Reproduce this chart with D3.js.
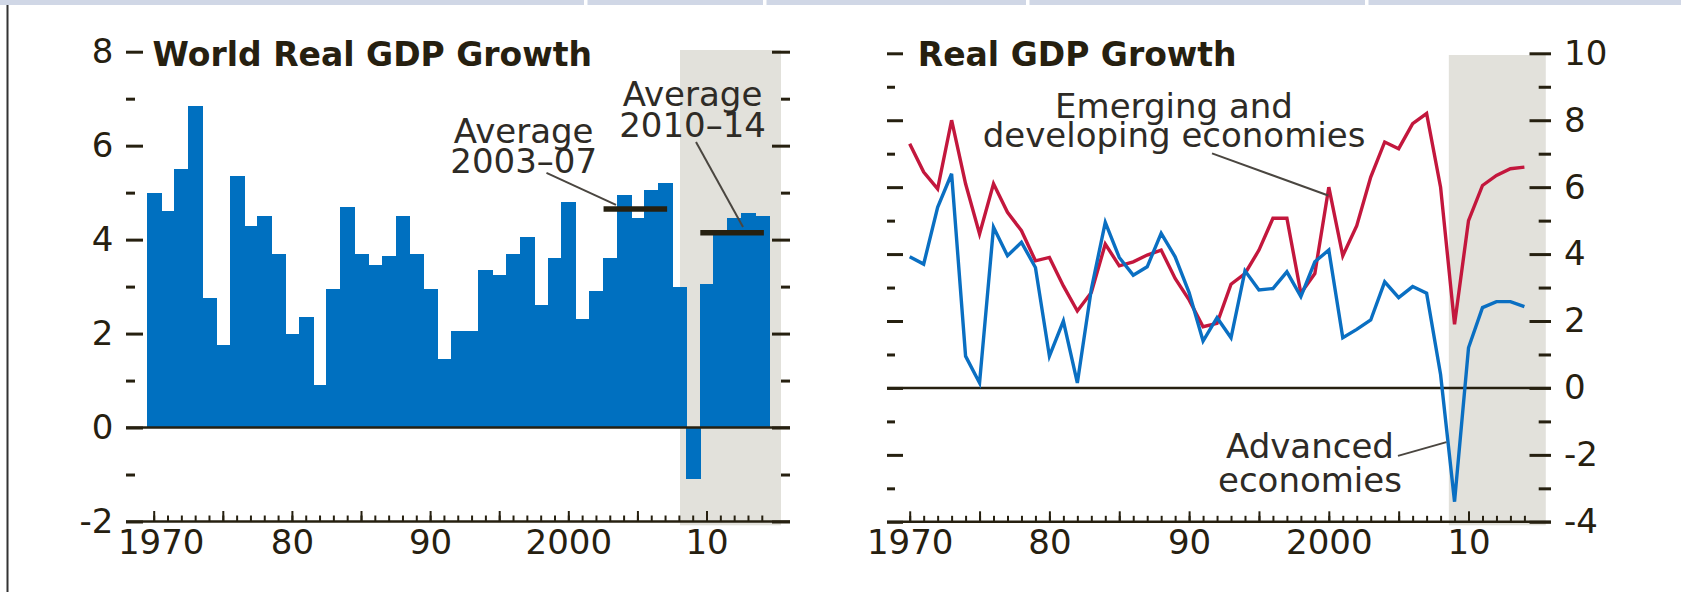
<!DOCTYPE html>
<html>
<head>
<meta charset="utf-8">
<script src="https://cdn.jsdelivr.net/npm/d3@7/dist/d3.min.js"></script>
<style>
    body { margin: 0; background: #fff; }
    svg { display: block; font-family: "DejaVu Sans", sans-serif; }
</style>
</head>
<body>
<div class="plot"></div>
<script>
const years = d3.range(1970, 2015);

// world real GDP growth, percent (bars, left panel)
const worldGrowth = [
    5.0, 4.6, 5.5, 6.85, 2.75, 1.75, 5.35, 4.3, 4.5, 3.7,
    2.0, 2.35, 0.9, 2.95, 4.7, 3.7, 3.45, 3.65, 4.5, 3.7,
    2.95, 1.45, 2.05, 2.05, 3.35, 3.25, 3.7, 4.05, 2.6, 3.6,
    4.8, 2.3, 2.9, 3.6, 4.95, 4.45, 5.05, 5.2, 3.0, -1.1,
    3.05, 4.15, 4.45, 4.57, 4.5
];

// right panel lines
const emergingGrowth = [
    7.3, 6.45, 5.95, 8.0, 6.1, 4.6, 6.1, 5.25, 4.7, 3.8,
    3.9, 3.05, 2.3, 2.85, 4.3, 3.65, 3.77, 3.97, 4.12, 3.27,
    2.63, 1.83, 1.93, 3.1, 3.42, 4.12, 5.07, 5.07, 2.83, 3.42,
    6.0, 3.95, 4.85, 6.3, 7.35, 7.15, 7.9, 8.2, 6.0, 1.9,
    5.0, 6.05, 6.35, 6.55, 6.6
];
const advancedGrowth = [
    3.92, 3.7, 5.4, 6.4, 0.95, 0.15, 4.8, 3.95, 4.35, 3.6,
    0.95, 2.0, 0.15, 2.95, 4.95, 3.9, 3.37, 3.62, 4.62, 3.92,
    2.85, 1.4, 2.1, 1.5, 3.5, 2.93, 2.97, 3.47, 2.73, 3.77,
    4.12, 1.5, 1.75, 2.03, 3.17, 2.7, 3.03, 2.83, 0.4, -3.4,
    1.2, 2.4, 2.58, 2.58, 2.43
];

const yearLabels = [1970, 1980, 1990, 2000, 2010];
const yearLabelText = ["1970", "80", "90", "2000", "10"];
const averagePeriods = [[2003, 2007], [2010, 2014]];

const ink = "#262010";
const width = 1681;
const height = 592;

const svg = d3
    .select(".plot")
    .append("svg")
    .attr("width", width)
    .attr("height", height);

// page furniture: top band and left rule
const bandGaps = [0, 584, 763, 1026, 1365, width];
svg.selectAll("rect.band")
    .data(d3.pairs(bandGaps))
    .join("rect")
    .attr("class", "band")
    .attr("x", (d, i) => d[0] + (i ? 3.5 : 0))
    .attr("y", 0)
    .attr("width", (d, i) => d[1] - d[0] - (i ? 3.5 : 0))
    .attr("height", 5)
    .attr("fill", "#d0d7e6");
svg.append("line")
    .attr("x1", 7.5).attr("x2", 7.5)
    .attr("y1", 5).attr("y2", height)
    .attr("stroke", "#333").attr("stroke-width", 2);

function makePanel(cfg) {
    const g = svg.append("g");
    const x = d3.scaleLinear().domain([1970, 2014]).range(cfg.xRange);
    const y = d3.scaleLinear().domain(cfg.yDomain).range(cfg.yRange);

    g.append("rect")
        .attr("x", x(cfg.shade[0]))
        .attr("width", x(cfg.shade[1]) - x(cfg.shade[0]))
        .attr("y", cfg.shadeY[0])
        .attr("height", cfg.shadeY[1] - cfg.shadeY[0])
        .attr("fill", "#e2e1db");

    return { g, x, y, cfg };
}

function styleAxis(sel, fontSize) {
    sel.attr("font-size", null).attr("font-family", null);
    sel.select(".domain").remove();
    sel.selectAll(".tick line").attr("stroke", ink).attr("stroke-width", 3);
    sel.selectAll(".tick text")
        .attr("fill", ink)
        .style("font-size", fontSize + "px");
}

function drawAxes(p) {
    const { g, x, y, cfg } = p;
    const [lo, hi] = cfg.yDomain;
    const major = d3.range(lo, hi + 1, 2);
    const minor = d3.range(lo + 1, hi, 2);

    // zero line and bottom axis line
    g.append("line")
        .attr("x1", cfg.x0).attr("x2", cfg.x1)
        .attr("y1", y(0)).attr("y2", y(0))
        .attr("stroke", ink).attr("stroke-width", 2.5);
    g.append("line")
        .attr("x1", cfg.x0).attr("x2", cfg.x1)
        .attr("y1", y(lo)).attr("y2", y(lo))
        .attr("stroke", ink).attr("stroke-width", 2.6);

    const leftLabels = cfg.labels === "left";

    g.append("g")
        .attr("transform", `translate(${cfg.x0},0)`)
        .call(d3.axisLeft(y).tickValues(major).tickSize(-cfg.ticksL[0])
            .tickPadding(12.5).tickFormat(leftLabels ? (d) => String(d) : ""))
        .call(styleAxis, 34);
    g.append("g")
        .attr("transform", `translate(${cfg.x0},0)`)
        .call(d3.axisLeft(y).tickValues(minor).tickSize(-cfg.ticksL[1]).tickFormat(""))
        .call(styleAxis, 34);
    g.append("g")
        .attr("transform", `translate(${cfg.x1},0)`)
        .call(d3.axisRight(y).tickValues(major).tickSize(-cfg.ticksR[0])
            .tickPadding(13).tickFormat(leftLabels ? "" : (d) => String(d)))
        .call(styleAxis, 34);
    g.append("g")
        .attr("transform", `translate(${cfg.x1},0)`)
        .call(d3.axisRight(y).tickValues(minor).tickSize(-cfg.ticksR[1]).tickFormat(""))
        .call(styleAxis, 34);

    // year ticks, pointing up from the bottom axis
    g.append("g")
        .attr("transform", `translate(0,${y(lo)})`)
        .call(d3.axisBottom(x).tickValues(years).tickSize(-6).tickFormat(""))
        .call(styleAxis, 34)
        .selectAll(".tick line").attr("stroke-width", 2);
    const xMajor = g.append("g")
        .attr("transform", `translate(0,${y(lo)})`)
        .call(d3.axisBottom(x)
            .tickValues(years.filter((d) => d % 5 === 0))
            .tickSize(-10.5)
            .tickPadding(8.5)
            .tickFormat((d) => {
                const i = yearLabels.indexOf(d);
                return i < 0 ? "" : yearLabelText[i];
            }))
        .call(styleAxis, 34);
    xMajor.selectAll(".tick line").attr("stroke-width", 2);
    xMajor.selectAll(".tick text")
        .attr("dx", (d) => (d === 1970 ? cfg.firstLabelDx : 0));

    g.append("text")
        .attr("x", cfg.titleX)
        .attr("y", 66)
        .text(cfg.title)
        .style("font-size", "33px")
        .style("font-weight", "bold")
        .attr("fill", ink);
}

function note(p, lines, at, lineGap) {
    p.g.append("text")
        .attr("text-anchor", "middle")
        .style("font-size", "34px")
        .attr("fill", "#2e2b26")
        .selectAll("tspan")
        .data(lines)
        .join("tspan")
        .attr("x", p.x(at[0]))
        .attr("y", (d, i) => p.y(at[1]) + i * lineGap)
        .text((d) => d);
}

function leader(p, from, to) {
    p.g.append("line")
        .attr("x1", p.x(from[0])).attr("y1", p.y(from[1]))
        .attr("x2", p.x(to[0])).attr("y2", p.y(to[1]))
        .attr("stroke", "#4a4640")
        .attr("stroke-width", 2);
}

// ---- left panel: World Real GDP Growth ----
const left = makePanel({
    x0: 126, x1: 790,
    xRange: [153.7, 761.8],
    yDomain: [-2, 8], yRange: [521.5, 51.7],
    shade: [2008.08, 2015.39], shadeY: [50, 525.3],
    ticksL: [17, 9], ticksR: [18, 9],
    labels: "left", firstLabelDx: 7,
    title: "World Real GDP Growth", titleX: 152.6
});

left.g.append("g")
    .attr("shape-rendering", "crispEdges")
    .selectAll("rect")
    .data(years)
    .join("rect")
    .attr("x", (d) => left.x(d - 0.5))
    .attr("width", (d) => left.x(d + 0.5) - left.x(d - 0.5) + 1)
    .attr("y", (d, i) => left.y(Math.max(0, worldGrowth[i])))
    .attr("height", (d, i) => Math.abs(left.y(worldGrowth[i]) - left.y(0)))
    .attr("fill", "#0070c0");

drawAxes(left);

averagePeriods.forEach(([a, b]) => {
    const avg = d3.mean(years.filter((d) => d >= a && d <= b),
        (d) => worldGrowth[d - 1970]);
    left.g.append("line")
        .attr("x1", left.x(a - 0.45)).attr("x2", left.x(b + 0.15))
        .attr("y1", left.y(avg)).attr("y2", left.y(avg))
        .attr("stroke", ink)
        .attr("stroke-width", 5.5);
});

note(left, ["Average", "2003–07"], [1996.77, 6.06], 30.6);
leader(left, [1998.42, 5.42], [2003.45, 4.74]);
note(left, ["Average", "2010–14"], [2008.99, 6.84], 31.3);
leader(left, [2009.24, 6.08], [2012.64, 4.27]);

// ---- right panel: Real GDP Growth ----
const right = makePanel({
    x0: 887, x1: 1551,
    xRange: [909.7, 1524.4],
    yDomain: [-4, 10], yRange: [521.8, 53.3],
    shade: [2008.59, 2015.53], shadeY: [55, 525.3],
    ticksL: [16, 8], ticksR: [21.5, 12.3],
    labels: "right", firstLabelDx: 0,
    title: "Real GDP Growth", titleX: 917.8
});

drawAxes(right);

const line = d3
    .line()
    .x((d, i) => right.x(years[i]))
    .y((d) => right.y(d));

right.g.append("path")
    .attr("d", line(emergingGrowth))
    .attr("fill", "none")
    .attr("stroke", "#c3173d")
    .attr("stroke-width", 3.4);
right.g.append("path")
    .attr("d", line(advancedGrowth))
    .attr("fill", "none")
    .attr("stroke", "#0a6fc2")
    .attr("stroke-width", 3.4);

note(right, ["Emerging and", "developing economies"], [1988.92, 8.06], 28.4);
leader(right, [1991.64, 7.01], [1999.96, 5.75]);
note(right, ["Advanced", "economies"], [1998.65, -2.10], 33.4);
leader(right, [2004.95, -2.03], [2008.42, -1.62]);
</script>
</body>
</html>
